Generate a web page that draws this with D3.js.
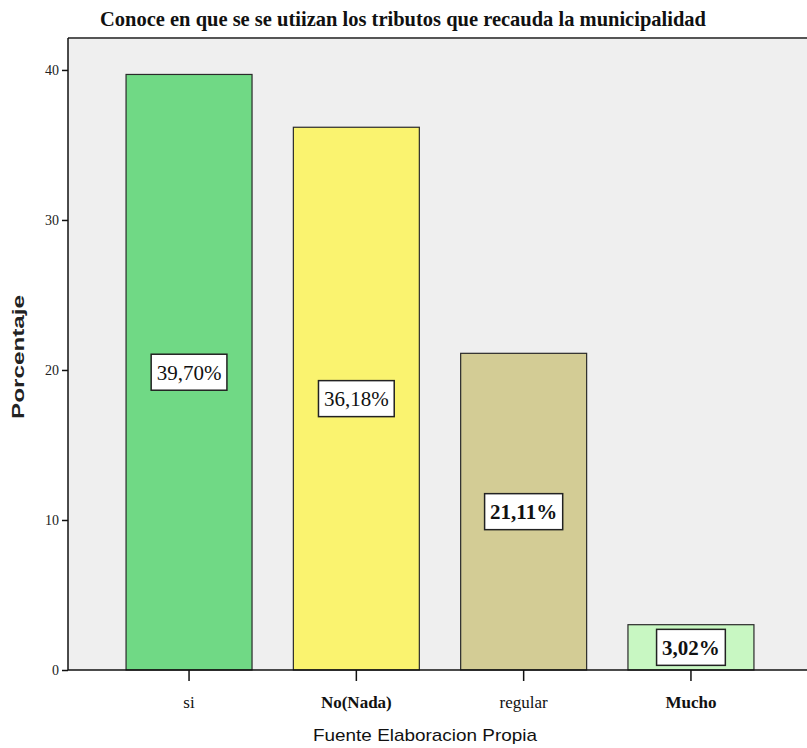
<!DOCTYPE html>
<html>
<head>
<meta charset="utf-8">
<script src="https://cdn.jsdelivr.net/npm/d3@7"></script>
<style>
  html, body { margin: 0; padding: 0; background: #fff; }
  svg { display: block; }
</style>
</head>
<body>
<div id="chart"></div>
<script>
// Survey answers and their percentages
const categories = ["si", "No(Nada)", "regular", "Mucho"];
const percentages = [39.70, 36.18, 21.11, 3.02];
const barColors = ["#70d985", "#faf36f", "#d3cc95", "#c8f7c2"];
const yTicks = [0, 10, 20, 30, 40];
const boldCategories = ["No(Nada)", "Mucho"];

const W = 807, H = 748;
const plot = { left: 68, top: 38, right: 807, bottom: 670 };

const svg = d3.select("#chart").append("svg")
  .attr("width", W).attr("height", H);

const x = d3.scaleBand()
  .domain(categories)
  .range([plot.left, 812])
  .paddingInner(0.247)
  .paddingOuter(0.347);

const y = d3.scaleLinear()
  .domain([0, 42.13])
  .range([plot.bottom, plot.top]);

// plot background
svg.append("rect")
  .attr("x", plot.left).attr("y", plot.top)
  .attr("width", plot.right - plot.left)
  .attr("height", plot.bottom - plot.top)
  .attr("fill", "#efefef");

svg.append("line")
  .attr("x1", plot.left).attr("x2", plot.right)
  .attr("y1", plot.top).attr("y2", plot.top)
  .attr("stroke", "#555").attr("stroke-width", 2);

// title
svg.append("text")
  .attr("x", 100).attr("y", 26)
  .attr("textLength", 606).attr("lengthAdjust", "spacingAndGlyphs")
  .attr("font-family", "'Liberation Serif', 'Times New Roman', serif")
  .attr("font-size", 21).attr("font-weight", "bold").attr("fill", "#111")
  .text("Conoce en que se se utiizan los tributos que recauda la municipalidad");

// bars
const data = categories.map((c, i) => ({ cat: c, value: percentages[i], color: barColors[i] }));

svg.append("g").selectAll("rect")
  .data(data).join("rect")
  .attr("x", d => x(d.cat))
  .attr("y", d => y(d.value))
  .attr("width", x.bandwidth())
  .attr("height", d => y(0) - y(d.value))
  .attr("fill", d => d.color)
  .attr("stroke", "#2a2a2a").attr("stroke-width", 1.2);

// value labels in white boxes at mid-height of each bar
const fmt = v => v.toFixed(2).replace(".", ",") + "%";
const labels = svg.append("g").selectAll("g")
  .data(data).join("g")
  .attr("transform", d => `translate(${x(d.cat) + x.bandwidth() / 2},${y(d.value / 2)})`);

labels.append("text")
  .attr("text-anchor", "middle").attr("dy", "0.35em")
  .attr("font-family", "'Liberation Serif', 'Times New Roman', serif")
  .attr("font-size", 21).attr("fill", "#111")
  .attr("font-weight", (d, i) => i >= 2 ? "bold" : "normal")
  .text(d => fmt(d.value));

labels.each(function() {
  const g = d3.select(this);
  const bb = g.select("text").node().getBBox();
  const w = bb.width + 11, h = 36;
  g.insert("rect", "text")
    .attr("x", -w / 2).attr("y", -h / 2)
    .attr("width", w).attr("height", h)
    .attr("fill", "#fff")
    .attr("stroke", "#222").attr("stroke-width", 1.5);
});

// y axis
const yAxis = svg.append("g")
  .attr("transform", `translate(${plot.left},0)`)
  .call(d3.axisLeft(y).tickValues(yTicks).tickSize(6).tickPadding(3).tickFormat(d3.format("d")));
yAxis.select(".domain").attr("stroke", "#111").attr("stroke-width", 1.5)
  .attr("d", `M0,${plot.top}V${plot.bottom}`);
yAxis.selectAll(".tick line").attr("stroke", "#111").attr("stroke-width", 1.5);
yAxis.selectAll(".tick text")
  .attr("font-family", "'Liberation Serif', 'Times New Roman', serif")
  .attr("font-size", 14).attr("fill", "#222");

// x axis
const xAxis = svg.append("g")
  .attr("transform", `translate(0,${plot.bottom})`)
  .call(d3.axisBottom(x).tickSize(11).tickPadding(15));
xAxis.select(".domain").attr("stroke", "#111").attr("stroke-width", 1.5)
  .attr("d", `M${plot.left},0H${plot.right}`);
xAxis.selectAll(".tick line").attr("stroke", "#111").attr("stroke-width", 1.5);
xAxis.selectAll(".tick text")
  .attr("font-family", "'Liberation Serif', 'Times New Roman', serif")
  .attr("font-size", 17).attr("fill", "#111")
  .attr("font-weight", d => boldCategories.includes(d) ? "bold" : "normal");

// axis titles
svg.append("text")
  .attr("transform", "translate(24,357) rotate(-90)")
  .attr("text-anchor", "middle")
  .attr("textLength", 124).attr("lengthAdjust", "spacingAndGlyphs")
  .attr("font-family", "'Liberation Sans', Arial, sans-serif")
  .attr("font-size", 16).attr("font-weight", "bold").attr("fill", "#222")
  .text("Porcentaje");

svg.append("text")
  .attr("x", 425).attr("y", 741)
  .attr("text-anchor", "middle")
  .attr("textLength", 224).attr("lengthAdjust", "spacingAndGlyphs")
  .attr("font-family", "'Liberation Sans', Arial, sans-serif")
  .attr("font-size", 17).attr("fill", "#111")
  .text("Fuente Elaboracion Propia");
</script>
</body>
</html>
